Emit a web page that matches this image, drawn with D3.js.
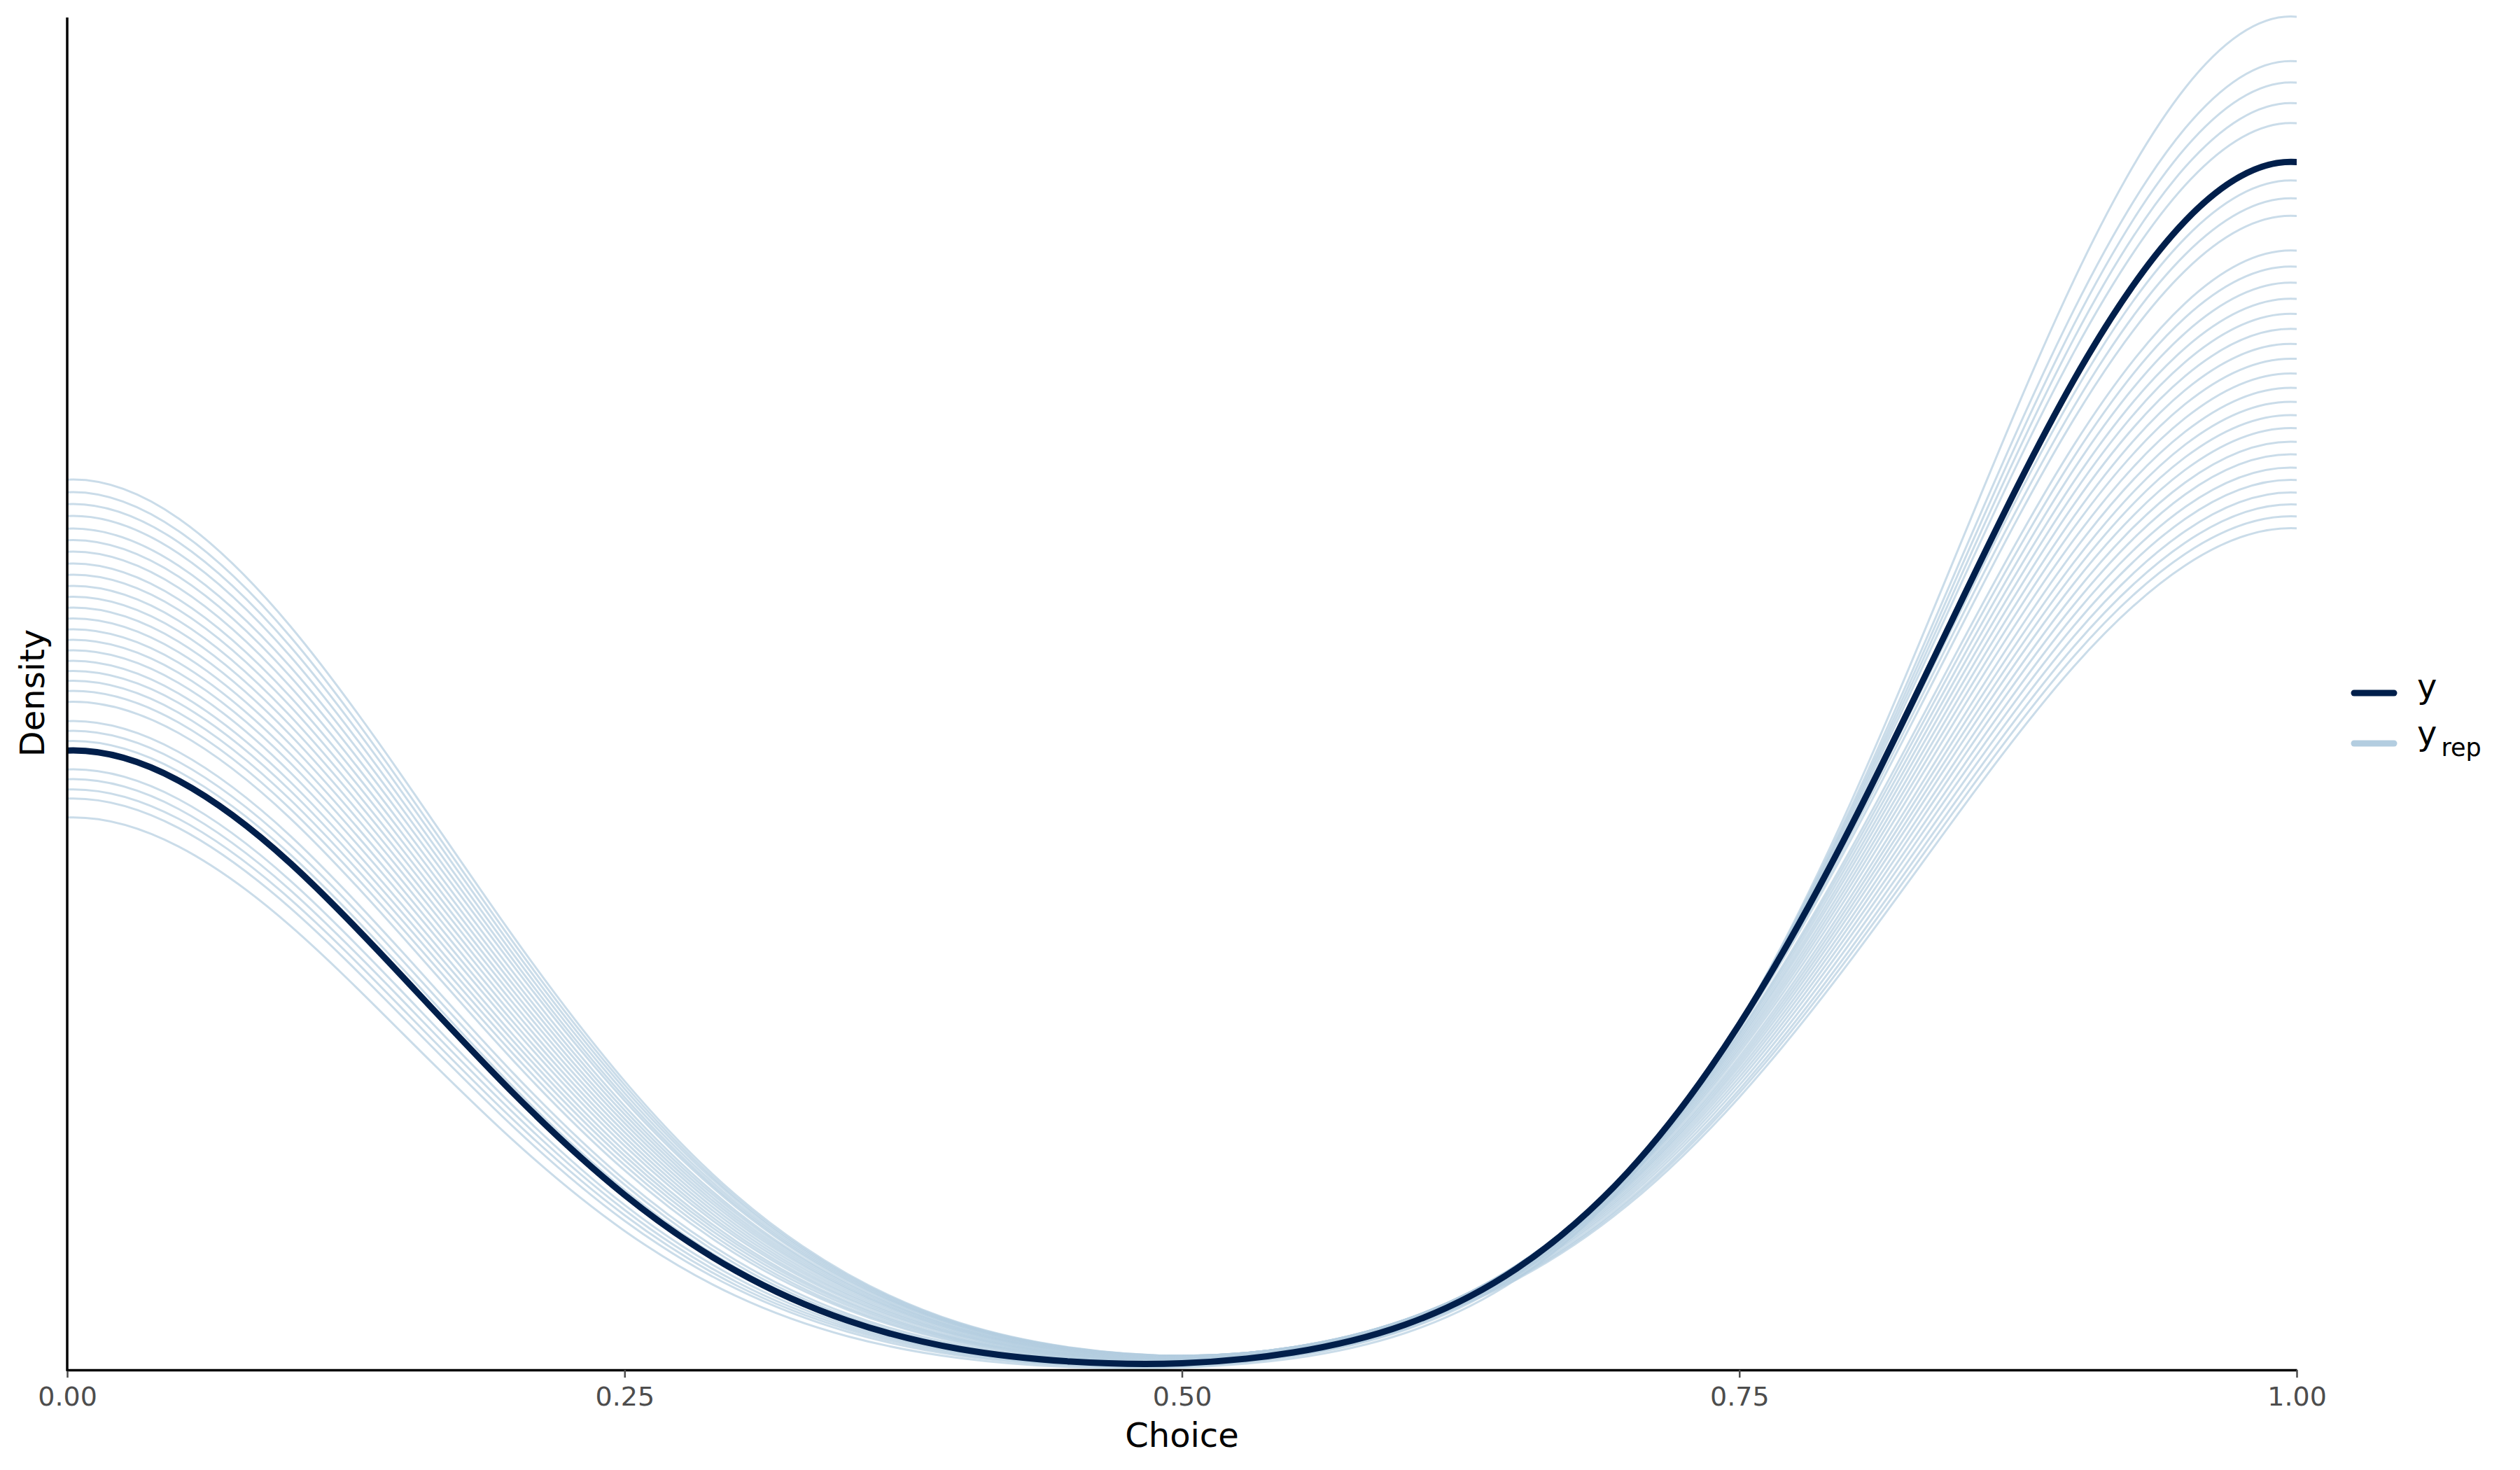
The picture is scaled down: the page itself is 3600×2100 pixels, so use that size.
<!DOCTYPE html>
<html>
<head>
<meta charset="utf-8">
<script src="https://cdn.jsdelivr.net/npm/d3@7"></script>
<style>
  html, body { margin: 0; padding: 0; background: #ffffff; }
  svg { display: block; }
</style>
</head>
<body>
<svg id="chart" width="3600" height="2100"></svg>
<script>
// ---------------- data ----------------
const xLabel = "Choice";
const yLabel = "Density";
const xTicks = [0, 0.25, 0.5, 0.75, 1];
const xTickLabels = ["0.00", "0.25", "0.50", "0.75", "1.00"];
const legendLabels = ["y", "y", "rep"];

// x positions where each density curve is read
const gridX = [0, 0.05, 0.10, 0.15, 0.20, 0.25, 0.30, 0.35, 0.40, 0.45, 0.50,
               0.55, 0.60, 0.65, 0.70, 0.75, 0.80, 0.85, 0.90, 0.95, 1.00];

// observed y density
const yDensity = [1.767, 1.681, 1.446, 1.124, 0.789, 0.498, 0.281, 0.139, 0.058, 0.022, 0.017,
                  0.048, 0.127, 0.287, 0.563, 0.985, 1.550, 2.200, 2.825, 3.280, 3.448];

// replicated (yrep) densities
const yrepDensity = [
  [2.541, 2.430, 2.123, 1.696, 1.237, 0.823, 0.497, 0.272, 0.133, 0.062, 0.038, 0.058, 0.125, 0.256, 0.469, 0.777, 1.169, 1.603, 2.007, 2.296, 2.402],
  [2.505, 2.394, 2.093, 1.672, 1.220, 0.812, 0.490, 0.268, 0.131, 0.061, 0.038, 0.058, 0.127, 0.260, 0.476, 0.789, 1.186, 1.626, 2.036, 2.329, 2.436],
  [2.471, 2.362, 2.065, 1.650, 1.203, 0.801, 0.484, 0.264, 0.129, 0.060, 0.038, 0.059, 0.129, 0.263, 0.482, 0.799, 1.202, 1.648, 2.064, 2.361, 2.470],
  [2.437, 2.330, 2.037, 1.626, 1.186, 0.789, 0.476, 0.260, 0.127, 0.058, 0.038, 0.061, 0.131, 0.268, 0.490, 0.811, 1.220, 1.672, 2.093, 2.394, 2.504],
  [2.401, 2.295, 2.007, 1.603, 1.169, 0.777, 0.469, 0.256, 0.125, 0.058, 0.038, 0.062, 0.134, 0.272, 0.497, 0.823, 1.238, 1.696, 2.123, 2.429, 2.540],
  [2.368, 2.264, 1.979, 1.580, 1.153, 0.767, 0.463, 0.252, 0.124, 0.057, 0.038, 0.062, 0.136, 0.275, 0.504, 0.834, 1.255, 1.719, 2.153, 2.463, 2.575],
  [2.335, 2.232, 1.950, 1.556, 1.134, 0.752, 0.452, 0.246, 0.120, 0.056, 0.038, 0.062, 0.137, 0.278, 0.510, 0.845, 1.272, 1.744, 2.183, 2.499, 2.613],
  [2.301, 2.199, 1.921, 1.533, 1.116, 0.740, 0.445, 0.242, 0.117, 0.054, 0.037, 0.063, 0.138, 0.281, 0.516, 0.855, 1.288, 1.766, 2.213, 2.533, 2.649],
  [2.269, 2.169, 1.894, 1.510, 1.099, 0.728, 0.437, 0.237, 0.115, 0.053, 0.037, 0.063, 0.139, 0.284, 0.522, 0.865, 1.305, 1.791, 2.244, 2.569, 2.688],
  [2.237, 2.138, 1.866, 1.487, 1.081, 0.715, 0.429, 0.232, 0.112, 0.052, 0.036, 0.063, 0.140, 0.286, 0.526, 0.874, 1.320, 1.813, 2.274, 2.605, 2.725],
  [2.206, 2.108, 1.839, 1.465, 1.064, 0.703, 0.421, 0.228, 0.110, 0.051, 0.036, 0.063, 0.140, 0.288, 0.531, 0.883, 1.335, 1.836, 2.304, 2.641, 2.763],
  [2.175, 2.078, 1.812, 1.442, 1.046, 0.690, 0.412, 0.222, 0.107, 0.049, 0.035, 0.063, 0.141, 0.289, 0.535, 0.892, 1.350, 1.859, 2.336, 2.678, 2.803],
  [2.144, 2.048, 1.785, 1.420, 1.028, 0.677, 0.403, 0.216, 0.103, 0.047, 0.034, 0.062, 0.141, 0.292, 0.541, 0.903, 1.367, 1.886, 2.369, 2.717, 2.844],
  [2.113, 2.018, 1.758, 1.397, 1.010, 0.664, 0.394, 0.211, 0.100, 0.045, 0.034, 0.062, 0.141, 0.294, 0.545, 0.912, 1.383, 1.910, 2.403, 2.757, 2.886],
  [2.083, 1.989, 1.732, 1.374, 0.992, 0.651, 0.385, 0.205, 0.097, 0.043, 0.033, 0.061, 0.141, 0.294, 0.548, 0.920, 1.398, 1.934, 2.435, 2.797, 2.928],
  [2.053, 1.960, 1.705, 1.352, 0.975, 0.638, 0.377, 0.200, 0.094, 0.042, 0.032, 0.061, 0.141, 0.295, 0.552, 0.928, 1.413, 1.958, 2.469, 2.837, 2.971],
  [2.023, 1.930, 1.678, 1.328, 0.955, 0.623, 0.366, 0.193, 0.089, 0.040, 0.029, 0.060, 0.140, 0.296, 0.555, 0.936, 1.429, 1.982, 2.502, 2.877, 3.014],
  [1.994, 1.903, 1.653, 1.306, 0.938, 0.610, 0.358, 0.188, 0.086, 0.038, 0.028, 0.058, 0.140, 0.296, 0.558, 0.943, 1.443, 2.006, 2.535, 2.917, 3.057],
  [1.966, 1.875, 1.627, 1.284, 0.920, 0.597, 0.349, 0.182, 0.083, 0.036, 0.027, 0.057, 0.139, 0.296, 0.560, 0.950, 1.458, 2.030, 2.570, 2.960, 3.103],
  [1.937, 1.847, 1.601, 1.261, 0.901, 0.583, 0.339, 0.175, 0.080, 0.033, 0.026, 0.056, 0.138, 0.296, 0.562, 0.957, 1.472, 2.055, 2.605, 3.004, 3.149],
  [1.906, 1.817, 1.574, 1.238, 0.882, 0.568, 0.329, 0.170, 0.076, 0.031, 0.025, 0.055, 0.137, 0.296, 0.564, 0.962, 1.485, 2.078, 2.639, 3.045, 3.195],
  [1.851, 1.763, 1.524, 1.194, 0.846, 0.541, 0.311, 0.158, 0.070, 0.028, 0.022, 0.052, 0.134, 0.293, 0.565, 0.973, 1.512, 2.127, 2.713, 3.138, 3.294],
  [1.823, 1.735, 1.497, 1.170, 0.826, 0.527, 0.300, 0.151, 0.065, 0.026, 0.021, 0.051, 0.132, 0.291, 0.565, 0.978, 1.526, 2.153, 2.749, 3.184, 3.344],
  [1.794, 1.707, 1.471, 1.147, 0.807, 0.512, 0.290, 0.145, 0.062, 0.024, 0.019, 0.049, 0.130, 0.289, 0.564, 0.981, 1.538, 2.176, 2.786, 3.231, 3.395],
  [1.713, 1.628, 1.396, 1.080, 0.752, 0.469, 0.261, 0.126, 0.050, 0.017, 0.014, 0.043, 0.121, 0.281, 0.560, 0.991, 1.574, 2.251, 2.904, 3.382, 3.559],
  [1.685, 1.600, 1.369, 1.056, 0.733, 0.455, 0.250, 0.120, 0.047, 0.015, 0.012, 0.041, 0.118, 0.277, 0.556, 0.992, 1.584, 2.274, 2.943, 3.434, 3.616],
  [1.656, 1.572, 1.343, 1.032, 0.713, 0.440, 0.240, 0.114, 0.043, 0.013, 0.010, 0.039, 0.115, 0.272, 0.552, 0.992, 1.593, 2.298, 2.983, 3.488, 3.675],
  [1.630, 1.546, 1.318, 1.009, 0.693, 0.424, 0.230, 0.107, 0.039, 0.011, 0.009, 0.037, 0.112, 0.267, 0.548, 0.991, 1.603, 2.323, 3.025, 3.545, 3.736],
  [1.576, 1.493, 1.267, 0.962, 0.654, 0.395, 0.209, 0.094, 0.032, 0.006, 0.005, 0.031, 0.103, 0.257, 0.538, 0.989, 1.619, 2.370, 3.110, 3.660, 3.863]
];

// ---------------- drawing ----------------
const FONT = "'DejaVu Sans', 'Liberation Sans', sans-serif";
const colY = "#011f4b";
const colYrep = "#b3cde0";

const svg = d3.select("#chart");
svg.append("rect").attr("width", 3600).attr("height", 2100).attr("fill", "#ffffff");

const panel = { left: 96, right: 3281, top: 24, bottom: 1956 };

const allVals = yDensity.concat(...yrepDensity);
const x = d3.scaleLinear().domain([0, 1]).range([panel.left, panel.right]);
const y = d3.scaleLinear().domain([0, d3.max(allVals)]).range([panel.bottom, panel.top]);

// the densities are bounded at 0 and 1 (reflected), so the spline is given the
// mirror image of the neighbouring reading past each bound and then clipped
function toPoints(arr) {
  const n = gridX.length;
  const pts = gridX.map((g, i) => [g, arr[i]]);
  pts.unshift([-gridX[1], arr[1]]);
  pts.push([2 - gridX[n - 2], arr[n - 2]]);
  return pts;
}

const line = d3.line()
  .x(d => x(d[0]))
  .y(d => y(d[1]))
  .curve(d3.curveNatural);

svg.append("defs").append("clipPath").attr("id", "panelClip")
  .append("rect")
  .attr("x", panel.left).attr("y", 0)
  .attr("width", panel.right - panel.left).attr("height", panel.bottom + 20);

const plot = svg.append("g").attr("clip-path", "url(#panelClip)");

// yrep lines
yrepDensity.forEach(arr => {
  plot.append("path")
    .attr("d", line(toPoints(arr)))
    .attr("fill", "none")
    .attr("stroke", colYrep)
    .attr("stroke-opacity", 0.7)
    .attr("stroke-width", 3)
    .attr("stroke-linejoin", "round");
});

// y line
plot.append("path")
  .attr("d", line(toPoints(yDensity)))
  .attr("fill", "none")
  .attr("stroke", colY)
  .attr("stroke-width", 9)
  .attr("stroke-linejoin", "round");

// x axis
const xAxis = d3.axisBottom(x)
  .tickValues(xTicks)
  .tickFormat((d, i) => xTickLabels[i])
  .tickSize(11)
  .tickSizeOuter(0)
  .tickPadding(13);

const gx = svg.append("g")
  .attr("transform", `translate(0,${panel.bottom + 1})`)
  .call(xAxis);
gx.select(".domain").attr("stroke", "#000000").attr("stroke-width", 3.5);
gx.selectAll(".tick line").attr("stroke", "#4d4d4d").attr("stroke-width", 2.5);
gx.selectAll(".tick text")
  .attr("fill", "#4d4d4d")
  .style("font-family", FONT)
  .style("font-size", "38px");

// y axis line (no ticks / labels)
svg.append("line")
  .attr("x1", panel.left).attr("x2", panel.left)
  .attr("y1", panel.top + 1).attr("y2", panel.bottom + 2.75)
  .attr("stroke", "#000000").attr("stroke-width", 3.5);

// axis titles
svg.append("text")
  .attr("x", (panel.left + panel.right) / 2)
  .attr("y", 2067)
  .attr("text-anchor", "middle")
  .style("font-family", FONT)
  .style("font-size", "48px")
  .attr("fill", "#000000")
  .text(xLabel);

svg.append("text")
  .attr("transform", `translate(63,${(panel.top + panel.bottom) / 2}) rotate(-90)`)
  .attr("text-anchor", "middle")
  .style("font-family", FONT)
  .style("font-size", "48px")
  .attr("fill", "#000000")
  .text(yLabel);

// legend
const lg = svg.append("g");
lg.append("line")
  .attr("x1", 3363).attr("x2", 3420).attr("y1", 990).attr("y2", 990)
  .attr("stroke", colY).attr("stroke-width", 9).attr("stroke-linecap", "round");
lg.append("line")
  .attr("x1", 3363).attr("x2", 3420).attr("y1", 1062).attr("y2", 1062)
  .attr("stroke", colYrep).attr("stroke-width", 9).attr("stroke-linecap", "round");

lg.append("text")
  .attr("x", 3453).attr("y", 997)
  .style("font-family", FONT).style("font-size", "48px")
  .attr("fill", "#000000")
  .text(legendLabels[0]);

const t2 = lg.append("text")
  .attr("x", 3453).attr("y", 1064)
  .style("font-family", FONT).style("font-size", "48px")
  .attr("fill", "#000000");
t2.append("tspan").text(legendLabels[1]);
t2.append("tspan").attr("dx", 6).attr("dy", 16).style("font-size", "35px").text(legendLabels[2]);
</script>
</body>
</html>
